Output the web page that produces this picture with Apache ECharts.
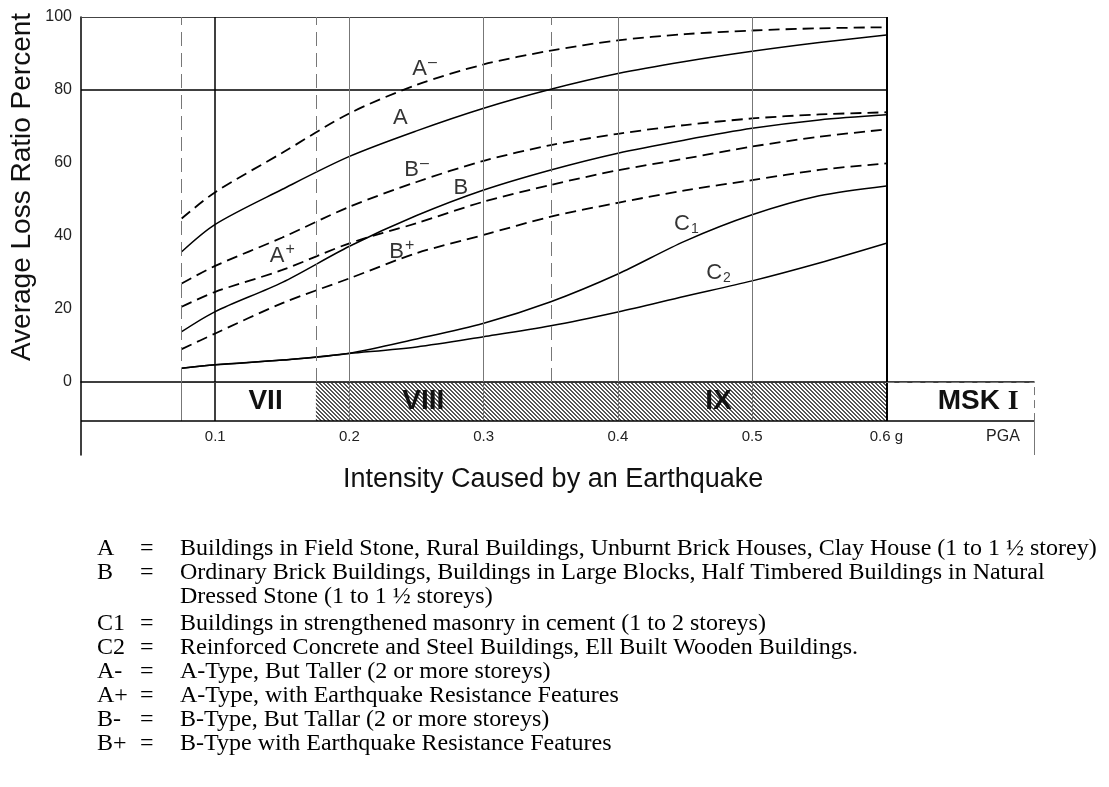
<!DOCTYPE html>
<html>
<head>
<meta charset="utf-8">
<script src="https://cdn.jsdelivr.net/npm/echarts@6/dist/echarts.min.js"></script>
<style>
  html, body { margin: 0; padding: 0; background: #fff; }
  #chart { width: 1109px; height: 787px; }
</style>
</head>
<body>
<div id="chart"></div>
<script>
// PGA (g) where the curves were read
var pga = [0.075, 0.1, 0.15, 0.2, 0.25, 0.3, 0.35, 0.4, 0.45, 0.5, 0.55, 0.6]
// average loss ratio (%) per building type
var lossAminus = [44.8, 52.0, 62.8, 73.6, 81.4, 87.0, 90.8, 93.6, 95.3, 96.3, 96.9, 97.2]
var lossA      = [35.7, 43.2, 52.8, 61.8, 68.8, 75.0, 80.2, 84.5, 87.8, 90.6, 93.0, 95.1]
var lossBminus = [27.0, 31.8, 39.6, 48.0, 54.8, 60.6, 64.9, 68.0, 70.4, 72.2, 73.3, 73.9]
var lossB      = [13.8, 19.3, 27.3, 37.2, 45.6, 52.6, 58.1, 62.7, 66.3, 69.5, 71.8, 73.2]
var lossAplus  = [20.6, 24.7, 30.7, 38.0, 43.5, 49.4, 54.0, 58.0, 61.2, 64.5, 67.2, 69.2]
var lossBplus  = [9.0, 13.3, 21.6, 28.4, 35.3, 40.3, 45.3, 49.1, 52.5, 55.3, 58.1, 59.9]
var lossC1     = [3.75, 4.7, 6.0, 7.9, 11.8, 16.1, 22.0, 29.6, 38.6, 45.8, 51.0, 53.7]
var lossC2     = [3.75, 4.7, 6.0, 7.8, 9.6, 12.4, 15.4, 19.2, 23.5, 27.7, 32.6, 38.0]

var curveNames = ['A-', 'A', 'B-', 'B', 'A+', 'B+', 'C1', 'C2']
var curveDashed = [true, false, true, false, true, true, false, false]
var curveValues = [lossAminus, lossA, lossBminus, lossB, lossAplus, lossBplus, lossC1, lossC2]
// where each curve name sits [pga, loss]
var curveLabelAt = [[0.256, 85.8], [0.238, 72.3], [0.250, 58.1], [0.283, 53.2],
                    [0.150, 34.5], [0.239, 35.6], [0.451, 43.3], [0.475, 29.9]]

var yTicks = [0, 20, 40, 60, 80, 100]
var pgaTicks = [0.1, 0.2, 0.3, 0.4, 0.5, 0.6]
// MSK intensity bands along the PGA axis
var bandNames = ['VII', 'VIII', 'IX', 'MSK I']
var bandEdges = [0.075, 0.175, 0.35, 0.6, 0.71]

var legendCodes = ['A', 'B', '', 'C1', 'C2', 'A-', 'A+', 'B-', 'B+']
var legendTexts = [
  'Buildings in Field Stone, Rural Buildings, Unburnt Brick Houses, Clay House (1 to 1 \u00bd storey)',
  'Ordinary Brick Buildings, Buildings in Large Blocks, Half Timbered Buildings in Natural',
  'Dressed Stone (1 to 1 \u00bd storeys)',
  'Buildings in strengthened masonry in cement (1 to 2 storeys)',
  'Reinforced Concrete and Steel Buildings, Ell Built Wooden Buildings.',
  'A-Type, But Taller (2 or more storeys)',
  'A-Type, with Earthquake Resistance Features',
  'B-Type, But Tallar (2 or more storeys)',
  'B-Type with Earthquake Resistance Features'
]

var BAND_TOP = 0, BAND_BOTTOM = -10.7
var sans = 'Liberation Sans, Arial, Helvetica, sans-serif'
var serif = 'Liberation Serif, Times New Roman, serif'

// hatch fill for the shaded intensity band
var hatch = document.createElement('canvas')
hatch.width = 4
hatch.height = 4
var hc = hatch.getContext('2d')
hc.fillStyle = '#fff'
hc.fillRect(0, 0, 4, 4)
hc.fillStyle = '#555'
for (var i = 0; i < 4; i++) {
  hc.fillRect(i, i, 1, 1)
  hc.fillRect((i + 1) % 4, i, 1, 1)
}

var series = []
curveNames.forEach(function (name, k) {
  series.push({
    name: name,
    type: 'line',
    smooth: 0.3,
    symbol: 'none',
    z: 3,
    data: pga.map(function (x, j) { return [x, curveValues[k][j]] }),
    lineStyle: {
      color: '#000',
      width: curveDashed[k] ? 1.8 : 1.5,
      type: curveDashed[k] ? [11, 6] : 'solid'
    }
  })
})

// frame, grid lines and band borders
var lines = []
function seg (x1, y1, x2, y2, style) {
  lines.push([{ coord: [x1, y1], lineStyle: style }, { coord: [x2, y2] }])
}
var black = { color: '#000', width: 1.5, type: 'solid' }
var grey = { color: '#777', width: 1, type: 'solid' }
var greyDash = { color: '#777', width: 1, type: [14, 7] }
seg(0, 100, 0.6, 100, { color: '#444', width: 1, type: 'solid' })
seg(0, 80, 0.6, 80, black)
pgaTicks.forEach(function (t) {
  if (t === 0.1) seg(t, BAND_BOTTOM, t, 100, black)
  else if (t === 0.6) seg(t, BAND_BOTTOM, t, 100, { color: '#000', width: 2, type: 'solid' })
  else seg(t, BAND_BOTTOM, t, 100, grey)
})
;[bandEdges[0], bandEdges[1], bandEdges[2]].forEach(function (x) {
  seg(x, BAND_TOP, x, 100, greyDash)
})
seg(bandEdges[0], BAND_BOTTOM, bandEdges[0], BAND_TOP, grey)
seg(bandEdges[0], BAND_TOP, 0.6, BAND_TOP, { color: '#333', width: 1, type: 'solid' })
seg(0.6, BAND_TOP, bandEdges[4], BAND_TOP, { color: '#777', width: 1, type: [8, 5] })
seg(bandEdges[4], BAND_BOTTOM, bandEdges[4], BAND_TOP, { color: '#777', width: 1, type: [8, 5] })
seg(0, BAND_BOTTOM, bandEdges[4], BAND_BOTTOM, black)
seg(bandEdges[4], -20, bandEdges[4], BAND_BOTTOM, grey)

var bandLabelOffset = [[0, 0], [-10, 0], [0, 0], [18, 0]]
var areas = bandNames.map(function (n, k) {
  var x1 = k === 0 ? 0.1 : bandEdges[k]
  var shaded = k === 1 || k === 2
  return [{
    name: n,
    coord: [x1, BAND_BOTTOM],
    itemStyle: { color: shaded ? { image: hatch, repeat: 'repeat' } : 'rgba(0,0,0,0)' },
    label: {
      show: true, position: 'inside', offset: bandLabelOffset[k],
      formatter: k === 3 ? '{a|MSK }{b|I}' : n,
      color: '#111', fontSize: 28, fontWeight: 'bold', fontFamily: sans,
      rich: {
        a: { fontSize: 28, fontWeight: 'bold', fontFamily: sans, color: '#111' },
        b: { fontSize: 28, fontWeight: 'bold', fontFamily: serif, color: '#111' }
      }
    }
  }, { coord: [bandEdges[k + 1], BAND_TOP] }]
})

series.push({
  type: 'line', data: [], z: 1, silent: true,
  markLine: { symbol: ['none', 'none'], silent: true, label: { show: false }, animation: false, data: lines }
})
series.push({
  type: 'line', data: [], z: 0, silent: true,
  markArea: { silent: true, data: areas }
})

// curve names
function curveLabel (n) {
  var rest = n.slice(1)
  if (!rest) return '{b|' + n + '}'
  if (/\d/.test(rest)) return '{b|' + n[0] + '}{sub|' + rest + '}'
  return '{b|' + n[0] + '}{sup|' + (rest === '-' ? '\u2013' : rest) + '}'
}
series.push({
  type: 'scatter', symbolSize: 0, z: 4, silent: true,
  data: curveLabelAt.map(function (p, k) { return { value: p, name: curveNames[k] } }),
  label: {
    show: true, position: 'inside',
    formatter: function (p) { return curveLabel(p.name) },
    rich: {
      b: { fontSize: 22, fontFamily: sans, color: '#000', lineHeight: 26, verticalAlign: 'middle' },
      sup: { fontSize: 16, fontFamily: sans, color: '#000', lineHeight: 26, padding: [0, 0, 12, 1], verticalAlign: 'middle' },
      sub: { fontSize: 14, fontFamily: sans, color: '#000', lineHeight: 26, padding: [10, 0, 0, 1], verticalAlign: 'middle' }
    }
  }
})

var graphics = [
  { type: 'text', left: 343, top: 466, style: { text: 'Intensity Caused by an Earthquake', font: '27px ' + sans, fill: '#111' } },
  { type: 'text', x: 22, y: 187, rotation: Math.PI / 2, style: { text: 'Average Loss Ratio Percent', font: '28px ' + sans, fill: '#111', align: 'center', verticalAlign: 'middle' } },
  { type: 'text', x: 1003, y: 437, style: { text: 'PGA', font: '16px ' + sans, fill: '#222', align: 'center', verticalAlign: 'middle' } }
]
var rowY = [549, 573, 597, 624, 648, 672, 696, 720, 744]
var legendFont = '24px ' + serif
legendTexts.forEach(function (t, k) {
  if (legendCodes[k]) {
    graphics.push({ type: 'text', x: 97, y: rowY[k], style: { text: legendCodes[k], font: legendFont, fill: '#000', verticalAlign: 'middle' } })
    graphics.push({ type: 'text', x: 140, y: rowY[k], style: { text: '=', font: legendFont, fill: '#000', verticalAlign: 'middle' } })
  }
  graphics.push({ type: 'text', x: 180, y: rowY[k], style: { text: t, font: legendFont, fill: '#000', verticalAlign: 'middle' } })
})

var chart = echarts.init(document.getElementById('chart'), null, { renderer: 'canvas' })
chart.setOption({
  animation: false,
  backgroundColor: '#fff',
  grid: { left: 81, right: 75, top: 17, bottom: 332, containLabel: false },
  xAxis: {
    type: 'value', min: 0, max: 0.71, interval: 0.1,
    axisLine: { show: true, lineStyle: { color: '#000', width: 1.5 } },
    axisTick: { show: false },
    splitLine: { show: false },
    axisLabel: {
      inside: true, margin: 11, fontSize: 15, fontFamily: sans, color: '#222',
      formatter: function (v) {
        var s = v.toFixed(1)
        if (pgaTicks.map(function (t) { return t.toFixed(1) }).indexOf(s) < 0) return ''
        return s === '0.6' ? '0.6 g' : s
      }
    }
  },
  yAxis: {
    type: 'value', min: -20, max: 100, interval: 20,
    axisLine: { show: true, lineStyle: { color: '#000', width: 1.5 } },
    axisTick: { show: false },
    splitLine: { show: false },
    axisLabel: {
      margin: 9, fontSize: 16, fontFamily: sans, color: '#222',
      formatter: function (v) { return yTicks.indexOf(v) < 0 ? '' : String(v) }
    }
  },
  graphic: graphics,
  series: series
})
</script>
</body>
</html>
